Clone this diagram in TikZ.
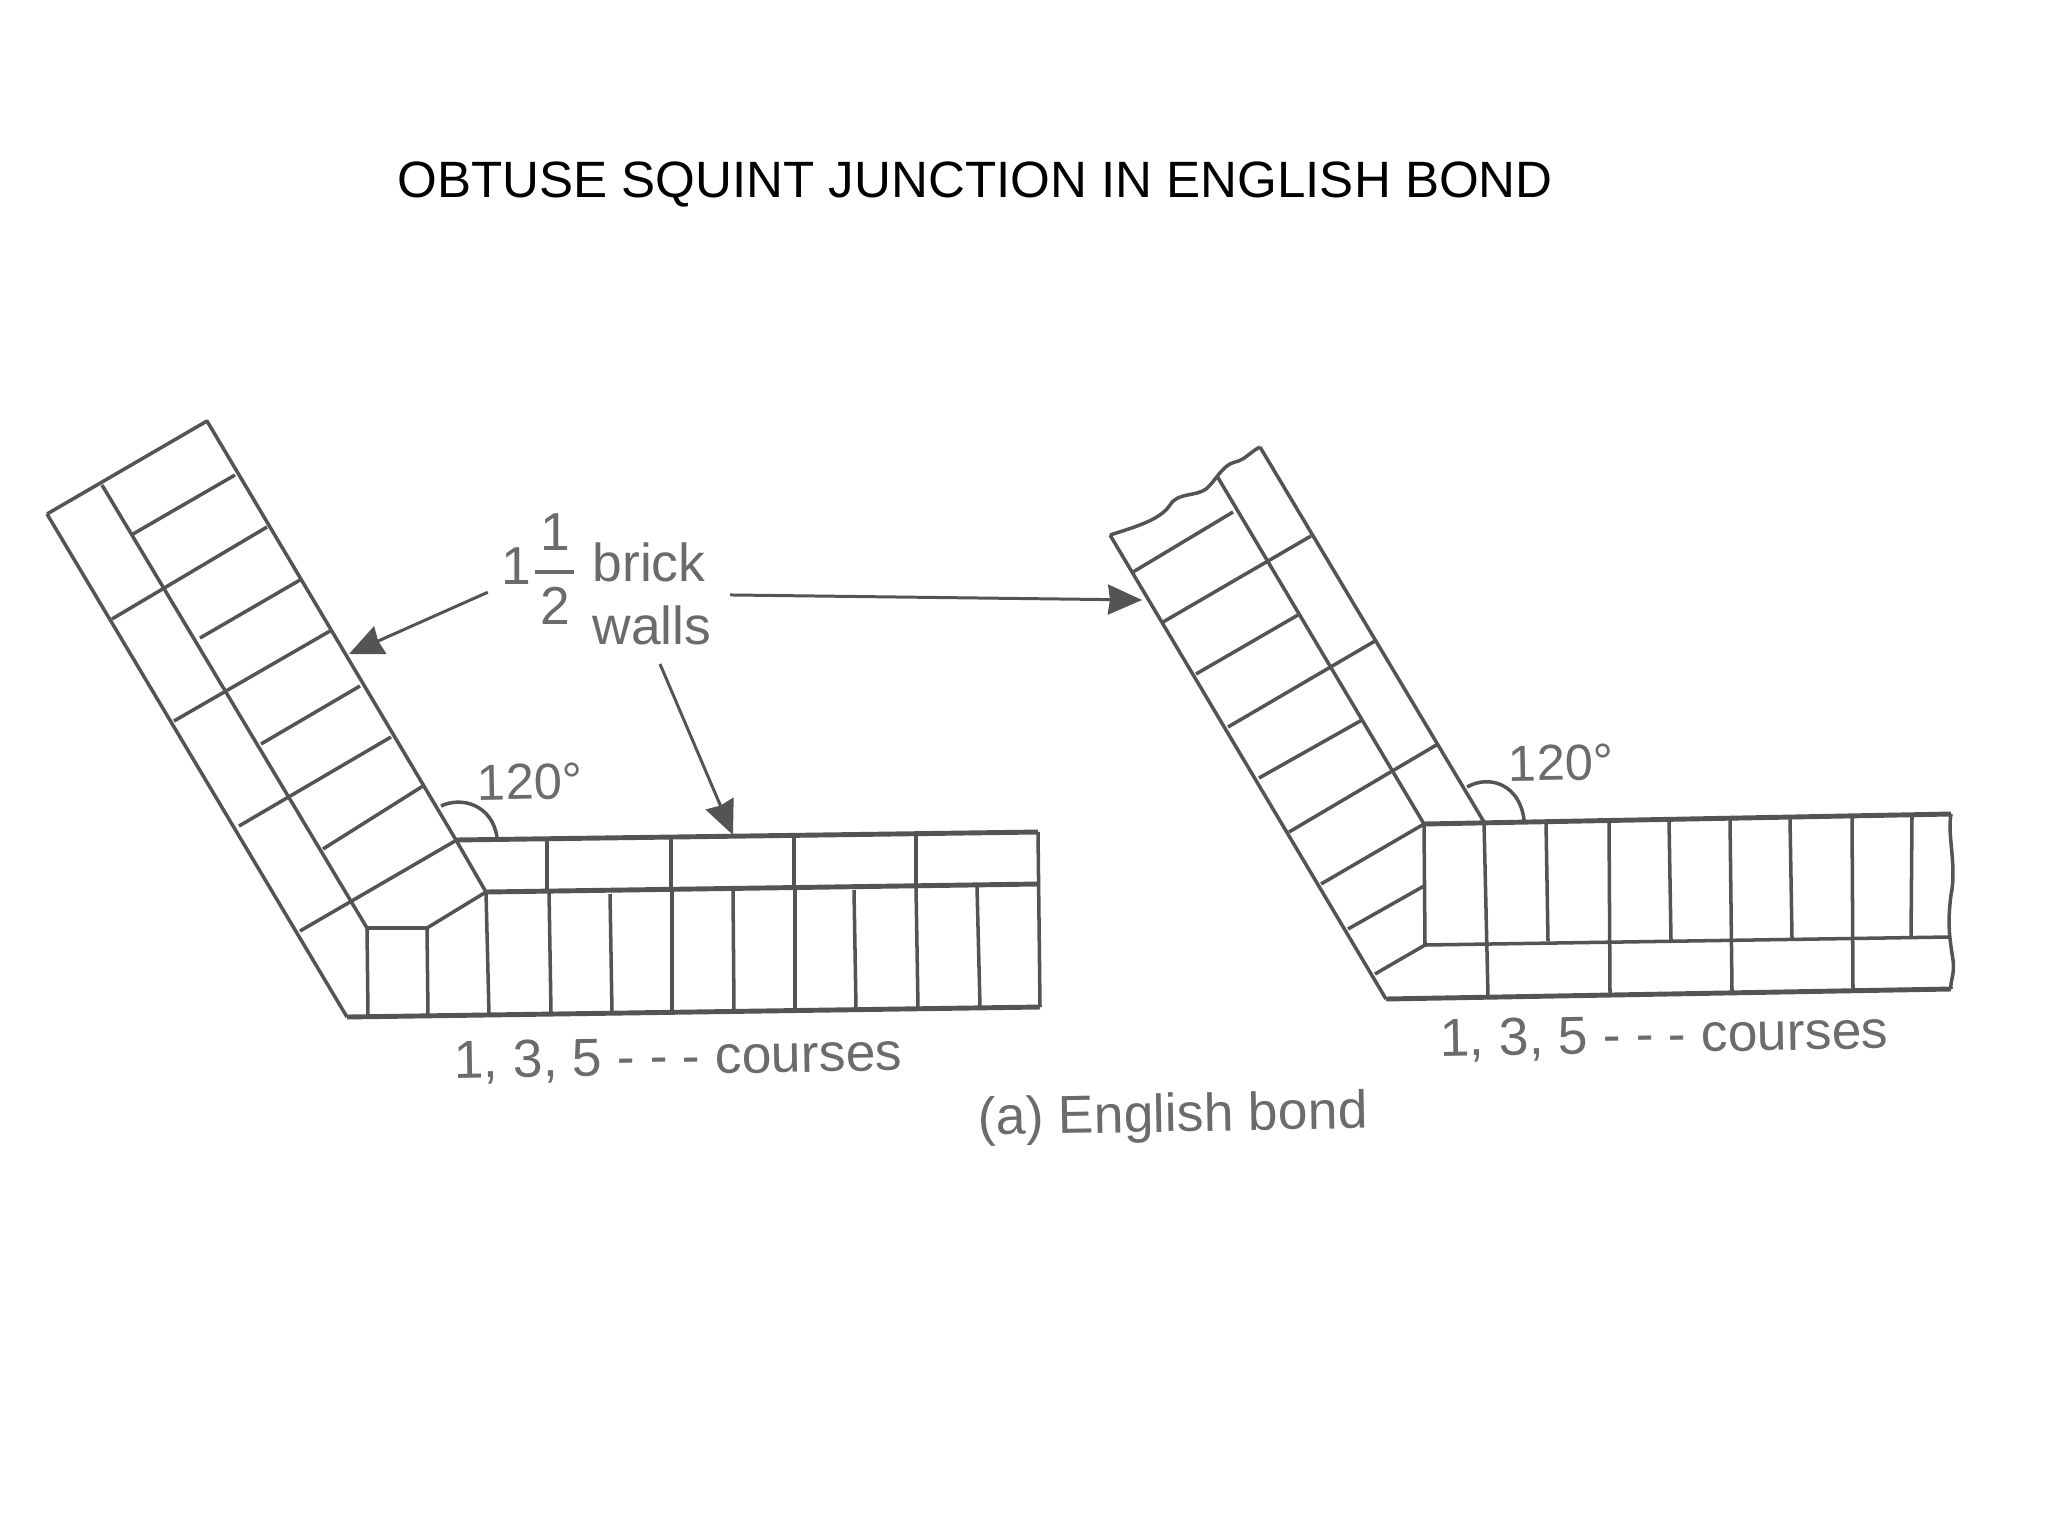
\documentclass[tikz,border=0pt]{standalone}
\usepackage{amsmath}
\usepackage{fontspec}
\setmainfont{Liberation Sans}
\usetikzlibrary{arrows.meta}
\definecolor{wallgray}{gray}{0.33}
\definecolor{labelgray}{gray}{0.42}
\tikzset{
	brickline/.style={wallgray, line width=1pt, line join=round},
	heavyline/.style={wallgray, line width=1.4pt, line join=round},
	pointer/.style={wallgray, line width=0.85pt, -{Stealth[length=0.34cm,width=0.3cm,inset=0.02cm]}},
	walllabel/.style={labelgray, font=\fontsize{15.2}{18}\selectfont, inner sep=0pt},
}
\begin{document}
\begin{tikzpicture}[x=0.01cm,y=-0.01cm]
	\useasboundingbox (0,0) rectangle (2048,1536);
	\node[black, font=\fontsize{14.53}{17}\selectfont, inner sep=0pt] (title) at (975,184) {OBTUSE SQUINT JUNCTION IN ENGLISH BOND};

	\coordinate (LT) at (207,421);
	\coordinate (LL) at (47,514);
	\coordinate (LB) at (347,1017);
	\coordinate (LJ) at (456,840);
	\coordinate (LK) at (486,892);
	\coordinate (LR) at (1040,1007);
	\coordinate (LU) at (1038,832);
	\coordinate (LM) at (1038,884);
	\coordinate (LI) at (102,485);
	\coordinate (LN) at (367,928);
	\coordinate (LO) at (427,928);
	\draw[brickline] (LL)--(LT)--(LJ)--(LK);
	\draw[brickline] (LL)--(LB);
	\draw[brickline] (LI)--(LN);
	\draw[heavyline] (LN)--(LO);
	\draw[brickline] (LO)--(LK);
	\draw[heavyline] (LB)--(LR);
	\draw[brickline] (LR)--(LU);
	\draw[heavyline] (LJ)--(LU);
	\draw[heavyline] (LK)--(LM);

	\draw[brickline] (133,534)--(235,475);
	\draw[brickline] (112,619)--(267,527);
	\draw[brickline] (200,638)--(300,580);
	\draw[brickline] (174,721)--(330,631);
	\draw[brickline] (261,744)--(360,686);
	\draw[brickline] (239,826)--(391,737);
	\draw[brickline] (323,849)--(423,786);
	\draw[brickline] (300,931)--(455,841);

	\draw[brickline] (LN)--(368,1016);
	\draw[brickline] (LO)--(428,1015);
	\draw[brickline] (LK)--(489,1014);
	\draw[brickline] (549,891)--(551,1012);
	\draw[brickline] (610,894)--(612,1012);
	\draw[brickline] (672,890)--(672,1012);
	\draw[brickline] (733,891)--(734,1011);
	\draw[brickline] (795,889)--(795,1009);
	\draw[brickline] (854,890)--(856,1009);
	\draw[brickline] (916,887)--(918,1008);
	\draw[brickline] (977,887)--(980,1007);
	\draw[brickline] (547,840)--(547,891);
	\draw[brickline] (671,839)--(671,890);
	\draw[brickline] (794,838)--(794,889);
	\draw[brickline] (916,835)--(916,887);
	\draw[brickline] (441,806) .. controls (462,796) and (492,805) .. (497,837);

	\coordinate (RT) at (1260,447);
	\coordinate (RL) at (1110,535);
	\coordinate (RB) at (1386,999);
	\coordinate (RJ) at (1424,824);
	\coordinate (RE) at (1484,822);
	\coordinate (RU) at (1951,814);
	\coordinate (RR) at (1951,989);
	\coordinate (RM) at (1949,937);
	\coordinate (RN) at (1425,945);
	\draw[brickline] (RL) .. controls (1135,527) and (1160,520) .. (1170,505) .. controls (1178,492) and (1195,497) .. (1206,489) .. controls (1215,482) and (1222,465) .. (1235,462) .. controls (1245,460) and (1250,452) .. (RT);
	\draw[brickline] (RT)--(RE);
	\draw[brickline] (RL)--(RB);
	\draw[brickline] (1217,476)--(RJ);
	\draw[heavyline] (RJ)--(RU);
	\draw[heavyline] (RB)--(RR);
	\draw[brickline] (RN)--(RM);
	\draw[brickline] (1375,974)--(RN);
	\draw[brickline] (RJ)--(RN);
	\draw[brickline] (RU) .. controls (1947,835) and (1957,865) .. (1951,895) .. controls (1947,925) and (1950,940) .. (1953,960) .. controls (1955,975) and (1950,980) .. (RR);

	\draw[brickline] (1133,572)--(1233,512);
	\draw[brickline] (1163,622)--(1311,536);
	\draw[brickline] (1196,674)--(1298,615);
	\draw[brickline] (1228,727)--(1375,641);
	\draw[brickline] (1259,778)--(1362,720);
	\draw[brickline] (1289,832)--(1438,744);
	\draw[brickline] (1321,884)--(RJ);
	\draw[brickline] (1348,929)--(1424,886);

	\draw[brickline] (RE)--(1488,996);
	\draw[brickline] (1546,822)--(1548,941);
	\draw[brickline] (1609,820)--(1610,993);
	\draw[brickline] (1669,820)--(1671,940);
	\draw[brickline] (1730,819)--(1732,991);
	\draw[brickline] (1790,819)--(1792,938);
	\draw[brickline] (1852,817)--(1853,990);
	\draw[brickline] (1912,816)--(1911,937);
	\draw[brickline] (1467,787) .. controls (1490,774) and (1520,785) .. (1524,820);

	\coordinate (tipL) at (349,654);
	\coordinate (tipM) at (733,835);
	\coordinate (tipR) at (1142,600);
	\node[walllabel, inner sep=0.13cm] (mixed) at (540,569) {1$\displaystyle\genfrac{}{}{1.2pt}{0}{\hbox{\kern1.3pt1\kern1.3pt}}{\hbox{\kern1.3pt2\kern1.3pt}}$};
	\node[walllabel, inner sep=0.18cm, align=left] (bricks) at (652,594) {brick\\walls};
	\draw[pointer] (mixed)--(tipL);
	\draw[pointer] (bricks)--(tipR);
	\draw[pointer] ([xshift=0.08cm]bricks.south)--(tipM);

	\node[walllabel, font=\fontsize{14.4}{17}\selectfont, rotate=1] (angleL) at (530,782) {120°};
	\node[walllabel, font=\fontsize{14.4}{17}\selectfont, rotate=1] (angleR) at (1561,763) {120°};
	\node[walllabel, rotate=1] (coursesL) at (678,1059) {1, 3, 5 - - - courses};
	\node[walllabel, rotate=1] (coursesR) at (1664,1037) {1, 3, 5 - - - courses};
	\node[walllabel, rotate=1] (caption) at (1173,1118) {(a) English bond};
\end{tikzpicture}
\end{document}
